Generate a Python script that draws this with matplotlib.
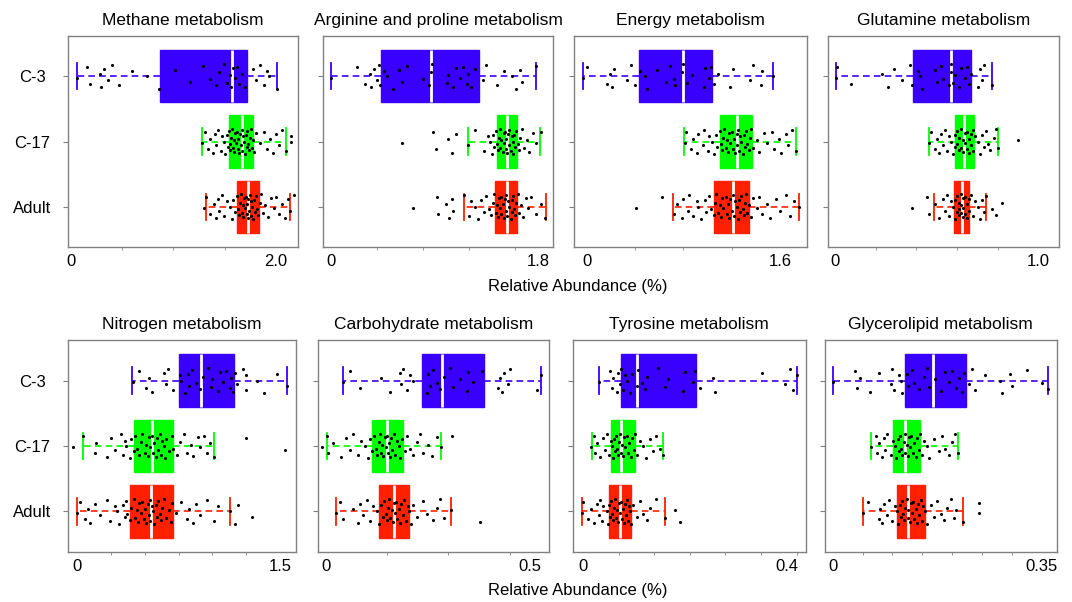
import matplotlib
matplotlib.use("Agg")
import matplotlib.pyplot as plt
from matplotlib.ticker import MultipleLocator
import numpy as np

plt.rcParams['font.family'] = ['Liberation Sans', 'DejaVu Sans']

# ---- data ----
groups = ["C-3", "C-17", "Adult"]
titles = ["Methane metabolism", "Arginine and proline metabolism", "Energy metabolism",
          "Glutamine metabolism", "Nitrogen metabolism", "Carbohydrate metabolism",
          "Tyrosine metabolism", "Glycerolipid metabolism"]
axis_max = [2.0, 1.8, 1.6, 1.0, 1.5, 0.5, 0.4, 0.35]
axis_max_labels = ["2.0", "1.8", "1.6", "1.0", "1.5", "0.5", "0.4", "0.35"]

# box stats per group: [whisker low, q1, median, q3, whisker high]
methane_box = [[0.06, 0.87, 1.57, 1.72, 2.01],
               [1.28, 1.54, 1.67, 1.78, 2.10],
               [1.32, 1.62, 1.73, 1.835, 2.14]]
arginine_box = [[0.0, 0.436, 0.87, 1.286, 1.78],
                [1.19, 1.445, 1.532, 1.619, 1.815],
                [1.16, 1.425, 1.526, 1.619, 1.865]]
energy_box = [[-0.03, 0.43, 0.795, 1.035, 1.545],
              [0.808, 1.103, 1.241, 1.365, 1.73],
              [0.717, 1.056, 1.214, 1.344, 1.757]]
glutamine_box = [[0.008, 0.384, 0.570, 0.670, 0.771],
                 [0.461, 0.588, 0.632, 0.681, 0.799],
                 [0.485, 0.586, 0.624, 0.657, 0.742]]
nitrogen_box = [[0.407, 0.753, 0.916, 1.16, 1.554],
                [0.044, 0.422, 0.555, 0.71, 1.014],
                [0.0, 0.39, 0.545, 0.706, 1.13]]
carbo_box = [[0.041, 0.2345, 0.2835, 0.386, 0.526],
             [0.002, 0.1135, 0.15, 0.188, 0.281],
             [0.0245, 0.1307, 0.167, 0.2027, 0.3056]]
tyrosine_box = [[0.0315, 0.0735, 0.106, 0.221, 0.42],
                [0.0164, 0.054, 0.074, 0.102, 0.156],
                [-0.003, 0.0506, 0.072, 0.094, 0.161]]
glycero_box = [[0.0, 0.121, 0.168, 0.224, 0.361],
               [0.065, 0.1007, 0.122, 0.147, 0.21],
               [0.051, 0.108, 0.127, 0.154, 0.2186]]

# individual samples (approximate)
methane_c3 = [0.06, 0.16, 0.19, 0.29, 0.30, 0.32, 0.36, 0.40, 0.47, 0.60, 0.74, 0.86, 1.02, 1.16,
              1.29, 1.36, 1.42, 1.45, 1.49, 1.52, 1.55, 1.56, 1.58, 1.60, 1.62, 1.64, 1.67, 1.70,
              1.78, 1.81, 1.84, 1.88, 1.91, 1.93, 2.01]
methane_c17 = [1.28, 1.31, 1.34, 1.36, 1.39, 1.41, 1.42, 1.44, 1.46, 1.47, 1.49, 1.50, 1.52, 1.53,
               1.54, 1.55, 1.55, 1.56, 1.57, 1.58, 1.59, 1.59, 1.60, 1.61, 1.62, 1.63, 1.63, 1.64,
               1.65, 1.66, 1.67, 1.67, 1.68, 1.69, 1.70, 1.71, 1.72, 1.72, 1.73, 1.74, 1.75, 1.76,
               1.77, 1.78, 1.79, 1.81, 1.84, 1.88, 1.91, 1.94, 1.97, 2.00, 2.03, 2.06, 2.10, 2.15, 2.15]
methane_adult = [1.30, 1.32, 1.36, 1.40, 1.42, 1.44, 1.45, 1.47, 1.49, 1.52, 1.55, 1.57, 1.58, 1.60,
                 1.62, 1.63, 1.64, 1.65, 1.66, 1.67, 1.68, 1.68, 1.69, 1.70, 1.71, 1.72, 1.72, 1.73,
                 1.73, 1.74, 1.75, 1.76, 1.76, 1.77, 1.78, 1.79, 1.80, 1.81, 1.82, 1.83, 1.84, 1.85,
                 1.87, 1.89, 1.92, 1.95, 1.98, 2.00, 2.03, 2.06, 2.09, 2.12, 2.14, 2.18]

arginine_c3 = [0.0, 0.23, 0.30, 0.34, 0.35, 0.38, 0.40, 0.42, 0.43, 0.46, 0.49, 0.54, 0.59, 0.62,
               0.66, 0.80, 0.85, 0.87, 0.88, 1.01, 1.02, 1.06, 1.09, 1.12, 1.15, 1.18, 1.19, 1.22,
               1.25, 1.32, 1.35, 1.44, 1.50, 1.57, 1.61, 1.64, 1.66, 1.78]
arginine_c17 = [0.62, 0.89, 0.91, 1.02, 1.05, 1.09, 1.19, 1.25, 1.33, 1.36, 1.38, 1.40, 1.41, 1.42,
                1.43, 1.44, 1.45, 1.46, 1.47, 1.47, 1.48, 1.49, 1.50, 1.50, 1.51, 1.52, 1.52, 1.53,
                1.54, 1.55, 1.55, 1.56, 1.57, 1.58, 1.58, 1.59, 1.60, 1.61, 1.62, 1.63, 1.64, 1.66,
                1.68, 1.70, 1.72, 1.75, 1.78, 1.82]
arginine_adult = [0.71, 0.92, 0.93, 1.00, 1.03, 1.05, 1.06, 1.16, 1.20, 1.22, 1.25, 1.28, 1.30, 1.33,
                  1.35, 1.37, 1.39, 1.41, 1.42, 1.43, 1.44, 1.45, 1.46, 1.47, 1.48, 1.48, 1.49, 1.50,
                  1.51, 1.52, 1.52, 1.53, 1.54, 1.55, 1.56, 1.57, 1.57, 1.58, 1.59, 1.60, 1.61, 1.62,
                  1.63, 1.65, 1.67, 1.69, 1.71, 1.74, 1.78, 1.82, 1.86]

energy_c3 = [-0.03, 0.0, 0.17, 0.19, 0.21, 0.23, 0.33, 0.37, 0.40, 0.44, 0.48, 0.50, 0.58, 0.66,
             0.69, 0.72, 0.73, 0.79, 0.80, 0.83, 0.87, 0.97, 0.98, 1.01, 1.03, 1.05, 1.09, 1.19,
             1.21, 1.35, 1.38, 1.44, 1.45, 1.545]
energy_c17 = [0.81, 0.82, 0.86, 0.88, 0.91, 0.92, 0.96, 0.97, 1.00, 1.01, 1.04, 1.05, 1.07, 1.08,
              1.10, 1.11, 1.12, 1.13, 1.14, 1.15, 1.16, 1.17, 1.18, 1.19, 1.20, 1.21, 1.22, 1.23,
              1.24, 1.24, 1.25, 1.26, 1.27, 1.28, 1.29, 1.30, 1.31, 1.32, 1.33, 1.34, 1.35, 1.36,
              1.38, 1.41, 1.43, 1.47, 1.49, 1.53, 1.55, 1.59, 1.61, 1.65, 1.67, 1.70, 1.73]
energy_adult = [0.41, 0.62, 0.72, 0.75, 0.79, 0.80, 0.84, 0.85, 0.88, 0.91, 0.92, 0.95, 0.98, 0.99,
                1.01, 1.03, 1.05, 1.06, 1.07, 1.09, 1.10, 1.11, 1.12, 1.13, 1.15, 1.16, 1.17, 1.18,
                1.19, 1.20, 1.21, 1.22, 1.23, 1.24, 1.25, 1.26, 1.27, 1.28, 1.29, 1.30, 1.31, 1.32,
                1.33, 1.34, 1.36, 1.38, 1.41, 1.43, 1.45, 1.49, 1.52, 1.57, 1.60, 1.65, 1.68, 1.72, 1.76]

glutamine_c3 = [0.008, 0.01, 0.08, 0.23, 0.26, 0.29, 0.33, 0.37, 0.38, 0.41, 0.42, 0.43, 0.49, 0.50,
                0.52, 0.53, 0.56, 0.57, 0.57, 0.58, 0.59, 0.61, 0.62, 0.64, 0.65, 0.66, 0.67, 0.70,
                0.71, 0.72, 0.73, 0.77]
glutamine_c17 = [0.46, 0.47, 0.49, 0.50, 0.51, 0.52, 0.53, 0.54, 0.55, 0.56, 0.57, 0.58, 0.59, 0.59,
                 0.60, 0.60, 0.61, 0.61, 0.62, 0.62, 0.63, 0.63, 0.64, 0.64, 0.65, 0.65, 0.66, 0.66,
                 0.67, 0.67, 0.68, 0.68, 0.69, 0.70, 0.71, 0.72, 0.73, 0.74, 0.75, 0.76, 0.78, 0.79,
                 0.80, 0.90]
glutamine_adult = [0.38, 0.45, 0.46, 0.49, 0.51, 0.53, 0.54, 0.55, 0.56, 0.57, 0.58, 0.59, 0.59, 0.60,
                   0.60, 0.61, 0.61, 0.61, 0.62, 0.62, 0.62, 0.63, 0.63, 0.63, 0.64, 0.64, 0.65, 0.65,
                   0.66, 0.66, 0.67, 0.68, 0.69, 0.70, 0.71, 0.72, 0.73, 0.74, 0.77, 0.79, 0.82]

nitrogen_c3 = [0.41, 0.46, 0.51, 0.53, 0.55, 0.64, 0.66, 0.67, 0.71, 0.76, 0.77, 0.80, 0.82, 0.83,
               0.85, 0.88, 0.91, 0.93, 0.97, 0.99, 1.00, 1.04, 1.06, 1.08, 1.10, 1.13, 1.14, 1.15,
               1.17, 1.18, 1.23, 1.25, 1.25, 1.33, 1.38, 1.48, 1.55]
nitrogen_c17 = [-0.03, 0.04, 0.13, 0.14, 0.22, 0.25, 0.28, 0.32, 0.34, 0.35, 0.36, 0.39, 0.40, 0.42,
                0.43, 0.44, 0.46, 0.47, 0.48, 0.50, 0.51, 0.52, 0.53, 0.54, 0.55, 0.56, 0.57, 0.58,
                0.59, 0.60, 0.61, 0.62, 0.63, 0.64, 0.65, 0.66, 0.68, 0.70, 0.71, 0.74, 0.76, 0.79,
                0.81, 0.84, 0.86, 0.89, 0.91, 0.94, 0.96, 0.98, 1.01, 1.25, 1.54]
nitrogen_adult = [0.00, 0.02, 0.06, 0.08, 0.09, 0.13, 0.17, 0.22, 0.24, 0.28, 0.29, 0.31, 0.34, 0.35,
                  0.36, 0.37, 0.39, 0.40, 0.42, 0.43, 0.44, 0.45, 0.46, 0.47, 0.48, 0.49, 0.50, 0.51,
                  0.52, 0.53, 0.54, 0.54, 0.55, 0.56, 0.57, 0.58, 0.59, 0.60, 0.61, 0.62, 0.63, 0.64,
                  0.66, 0.68, 0.69, 0.70, 0.73, 0.77, 0.81, 0.83, 0.86, 0.88, 0.91, 0.96, 1.01, 1.04,
                  1.13, 1.17, 1.19, 1.29]

carbo_c3 = [0.041, 0.059, 0.083, 0.136, 0.157, 0.181, 0.185, 0.189, 0.198, 0.206, 0.214, 0.247,
            0.251, 0.255, 0.263, 0.271, 0.279, 0.288, 0.304, 0.312, 0.328, 0.345, 0.349, 0.361,
            0.382, 0.422, 0.426, 0.430, 0.435, 0.447, 0.451, 0.516, 0.526]
carbo_c17 = [-0.01, 0.002, 0.006, 0.018, 0.038, 0.050, 0.059, 0.067, 0.079, 0.087, 0.095, 0.104,
             0.108, 0.114, 0.118, 0.122, 0.126, 0.129, 0.132, 0.135, 0.138, 0.141, 0.144, 0.146,
             0.149, 0.151, 0.154, 0.157, 0.160, 0.163, 0.166, 0.170, 0.174, 0.178, 0.182, 0.186,
             0.193, 0.199, 0.206, 0.214, 0.222, 0.230, 0.238, 0.250, 0.259, 0.271, 0.281, 0.310]
carbo_adult = [0.0245, 0.034, 0.042, 0.067, 0.079, 0.083, 0.091, 0.100, 0.108, 0.116, 0.124, 0.131,
               0.135, 0.139, 0.143, 0.146, 0.149, 0.152, 0.155, 0.158, 0.161, 0.164, 0.166, 0.169,
               0.172, 0.175, 0.178, 0.181, 0.184, 0.188, 0.192, 0.196, 0.200, 0.203, 0.208, 0.214,
               0.222, 0.239, 0.247, 0.263, 0.272, 0.280, 0.289, 0.306, 0.377]

tyrosine_c3 = [0.0315, 0.052, 0.056, 0.059, 0.066, 0.069, 0.072, 0.075, 0.079, 0.082, 0.085, 0.092,
               0.095, 0.105, 0.108, 0.115, 0.121, 0.125, 0.148, 0.161, 0.167, 0.197, 0.200, 0.216,
               0.220, 0.230, 0.256, 0.259, 0.351, 0.397, 0.407, 0.413, 0.420]
tyrosine_c17 = [0.016, 0.020, 0.023, 0.026, 0.033, 0.039, 0.043, 0.046, 0.051, 0.054, 0.057, 0.059,
                0.061, 0.063, 0.065, 0.067, 0.069, 0.070, 0.072, 0.074, 0.076, 0.078, 0.080, 0.082,
                0.085, 0.087, 0.090, 0.093, 0.096, 0.099, 0.102, 0.105, 0.111, 0.118, 0.124, 0.131,
                0.138, 0.144, 0.150, 0.156]
tyrosine_adult = [-0.003, 0.0, 0.010, 0.016, 0.020, 0.026, 0.030, 0.033, 0.036, 0.039, 0.046, 0.049,
                  0.051, 0.053, 0.055, 0.057, 0.059, 0.061, 0.063, 0.065, 0.067, 0.069, 0.071, 0.072,
                  0.074, 0.076, 0.078, 0.080, 0.082, 0.084, 0.086, 0.088, 0.090, 0.092, 0.094, 0.098,
                  0.105, 0.112, 0.118, 0.125, 0.131, 0.144, 0.161, 0.180, 0.190]

glycero_c3 = [0.0, 0.038, 0.041, 0.046, 0.063, 0.077, 0.097, 0.100, 0.102, 0.111, 0.114, 0.116,
              0.125, 0.127, 0.133, 0.136, 0.144, 0.153, 0.158, 0.161, 0.172, 0.181, 0.189, 0.195,
              0.200, 0.206, 0.211, 0.217, 0.220, 0.228, 0.234, 0.239, 0.256, 0.281, 0.284, 0.298,
              0.301, 0.326, 0.351, 0.361]
glycero_c17 = [0.065, 0.072, 0.075, 0.077, 0.083, 0.086, 0.088, 0.091, 0.097, 0.101, 0.104, 0.106,
               0.109, 0.111, 0.113, 0.115, 0.117, 0.119, 0.121, 0.122, 0.124, 0.126, 0.128, 0.130,
               0.132, 0.134, 0.137, 0.139, 0.142, 0.145, 0.147, 0.150, 0.153, 0.158, 0.161, 0.169,
               0.178, 0.183, 0.189, 0.195, 0.200, 0.205, 0.210]
glycero_adult = [0.051, 0.060, 0.077, 0.080, 0.083, 0.086, 0.091, 0.094, 0.100, 0.105, 0.108, 0.110,
                 0.112, 0.114, 0.116, 0.118, 0.120, 0.122, 0.124, 0.126, 0.127, 0.129, 0.131, 0.133,
                 0.135, 0.137, 0.139, 0.141, 0.143, 0.145, 0.148, 0.150, 0.152, 0.154, 0.158, 0.164,
                 0.170, 0.175, 0.181, 0.186, 0.192, 0.198, 0.204, 0.207, 0.219, 0.245, 0.246]

box_stats = [methane_box, arginine_box, energy_box, glutamine_box,
             nitrogen_box, carbo_box, tyrosine_box, glycero_box]
samples = [[methane_c3, methane_c17, methane_adult],
           [arginine_c3, arginine_c17, arginine_adult],
           [energy_c3, energy_c17, energy_adult],
           [glutamine_c3, glutamine_c17, glutamine_adult],
           [nitrogen_c3, nitrogen_c17, nitrogen_adult],
           [carbo_c3, carbo_c17, carbo_adult],
           [tyrosine_c3, tyrosine_c17, tyrosine_adult],
           [glycero_c3, glycero_c17, glycero_adult]]

# ---- layout / style ----
W, H = 1072, 602
colors = ['#3A00FF', '#00FF00', '#FF2000']
# pixel boxes of the panels: left, right, top, bottom
lefts = [68.3, 322.7, 574, 828, 68.3, 317.7, 572.7, 824.7]
rights = [298, 553.3, 806.7, 1059.3, 295.7, 549.3, 805.7, 1057]
tops = [36, 36, 36, 36, 340, 340, 340, 340]
bottoms = [247, 247, 247, 247, 552, 552, 552, 552]
xlims = [(-0.023, 2.215), (-0.069, 1.93), (-0.105, 1.821), (-0.033, 1.101),
         (-0.067, 1.617), (-0.020, 0.547), (-0.021, 0.438), (-0.0134, 0.376)]
minor_steps = [0.5, 0.4, 0.4, 0.2, 0.25, 0.15, 0.07, 0.05]
# fixed vertical spread of the dots
jitter = np.array([0.02, -0.15, 0.11, -0.04, 0.17, -0.12, 0.06, -0.18, 0.14, -0.08, 0.00, 0.19,
                   -0.10, 0.08, -0.16, 0.04, 0.13, -0.06, -0.19, 0.10, -0.02, 0.16, -0.13])
spine_col = '#808080'

fig = plt.figure(figsize=(W / 100, H / 100), dpi=100)

for k in range(8):
    ax = fig.add_axes([lefts[k] / W, 1 - bottoms[k] / H,
                       (rights[k] - lefts[k]) / W, (bottoms[k] - tops[k]) / H])
    for i in range(3):
        s = box_stats[k][i]
        st = [dict(whislo=s[0], q1=s[1], med=s[2], q3=s[3], whishi=s[4], fliers=[])]
        c = colors[i]
        ax.bxp(st, positions=[i + 1], widths=0.8, orientation='horizontal',
               patch_artist=True, showfliers=False, capwidths=0.4,
               boxprops=dict(facecolor=c, edgecolor=c, linewidth=1),
               medianprops=dict(color='white', linewidth=2),
               whiskerprops=dict(color=c, linewidth=1.2, linestyle=(0, (4, 2.5))),
               capprops=dict(color=c, linewidth=1.3))
        vals = np.array(samples[k][i])
        offs = np.resize(jitter, len(vals))
        ax.scatter(vals, i + 1 + offs, s=5, c='black', linewidths=0, zorder=5)

    ax.set_xlim(*xlims[k])
    ax.set_ylim(3.62, 0.38)
    for sp in ax.spines.values():
        sp.set_color(spine_col)
        sp.set_linewidth(1)

    ax.set_xticks([0, axis_max[k]])
    ax.set_xticklabels(["0", axis_max_labels[k]], fontsize=12)
    ax.tick_params(axis='x', which='major', length=0, pad=5)
    ax.xaxis.set_minor_locator(MultipleLocator(minor_steps[k]))
    ax.tick_params(axis='x', which='minor', length=2.5, color=spine_col)

    ax.set_yticks([1, 2, 3])
    ax.tick_params(axis='y', length=3.6, color=spine_col, pad=22.5)
    if k % 4 == 0:
        ax.set_yticklabels(groups, fontsize=12)
        for lab in ax.get_yticklabels():
            lab.set_horizontalalignment('center')
    else:
        ax.set_yticklabels([])

    ax.set_title(titles[k], fontsize=12.5, pad=8)

fig.text(577.5 / W, 1 - 287 / H, "Relative Abundance (%)", ha='center', va='center', fontsize=12)
fig.text(577.5 / W, 1 - 590 / H, "Relative Abundance (%)", ha='center', va='center', fontsize=12)

fig.savefig("out.png", dpi=100)
